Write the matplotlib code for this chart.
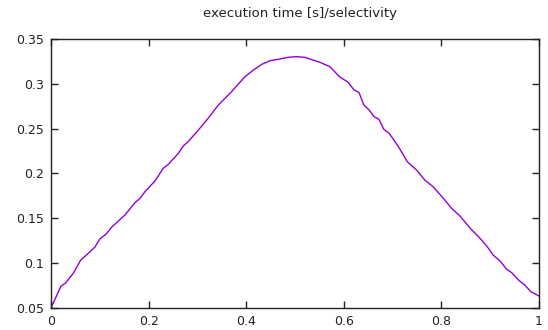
import numpy as np
import matplotlib
matplotlib.use("Agg")
import matplotlib.pyplot as plt

# selectivity vs execution time
selectivity = [0.0, 0.02, 0.03, 0.046, 0.061, 0.0765, 0.09, 0.10, 0.113, 0.124,
               0.152, 0.172, 0.182, 0.193, 0.213, 0.230, 0.240, 0.261, 0.271, 0.281,
               0.305, 0.322, 0.343, 0.370, 0.3975, 0.415, 0.432, 0.449, 0.469, 0.486,
               0.503, 0.520, 0.551, 0.5717, 0.591, 0.609, 0.621, 0.631, 0.641, 0.652,
               0.662, 0.672, 0.682, 0.693, 0.712, 0.730, 0.749, 0.766, 0.783, 0.804,
               0.821, 0.838, 0.859, 0.876, 0.893, 0.906, 0.920, 0.934, 0.944, 0.958,
               0.971, 0.983, 1.0]
exec_time = [0.050, 0.074, 0.078, 0.089, 0.1035, 0.111, 0.118, 0.127, 0.1325, 0.140,
             0.154, 0.1675, 0.172, 0.180, 0.1916, 0.2058, 0.210, 0.2225, 0.2307, 0.2355,
             0.2504, 0.2615, 0.2764, 0.2913, 0.308, 0.3155, 0.3218, 0.3258, 0.3277, 0.3296,
             0.3303, 0.3296, 0.324, 0.3191, 0.308, 0.3017, 0.2931, 0.2905, 0.2764, 0.2708,
             0.2634, 0.2604, 0.2493, 0.2448, 0.2299, 0.2132, 0.2039, 0.1927, 0.1853, 0.1723,
             0.1611, 0.1526, 0.1389, 0.1296, 0.1191, 0.1091, 0.1024, 0.0931, 0.0894, 0.0812,
             0.0756, 0.0682, 0.0634]

xticks = [0, 0.2, 0.4, 0.6, 0.8, 1]
xlabels = ['0', '0.2', '0.4', '0.6', '0.8', '1']
yticks = [0.05, 0.1, 0.15, 0.2, 0.25, 0.3, 0.35]
ylabels = ['0.05', '0.1', '0.15', '0.2', '0.25', '0.3', '0.35']

fig = plt.figure(figsize=(5.48, 3.30), dpi=100)
ax = fig.add_axes([51/548, 22/330, 488/548, 269/330])

ax.plot(selectivity, exec_time, color='#9400d3', lw=1)

ax.set_xlim(0, 1)
ax.set_ylim(0.05, 0.35)
ax.set_xticks(xticks)
ax.set_xticklabels(xlabels)
ax.set_yticks(yticks)
ax.set_yticklabels(ylabels)
ax.tick_params(direction='in', top=True, right=True, length=5, width=1,
               labelsize=9, pad=5, colors='#222222')
for s in ax.spines.values():
    s.set_linewidth(1)
    s.set_color('#222222')

fig.text(300/548, 1 - 14/330, 'execution time [s]/selectivity',
         ha='center', va='center', fontsize=9.5, color='#222222')

fig.savefig('out.png', dpi=100)
